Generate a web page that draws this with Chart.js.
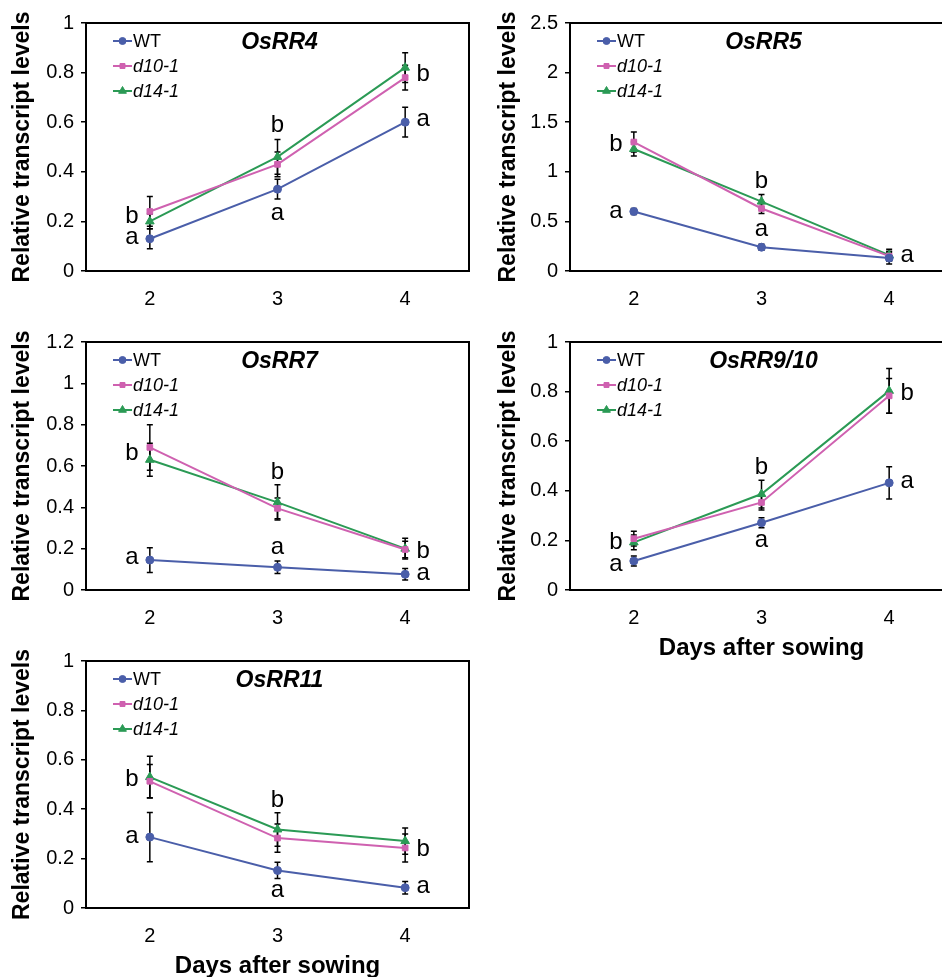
<!DOCTYPE html>
<html>
<head>
<meta charset="utf-8">
<script src="https://cdn.jsdelivr.net/npm/chart.js@4.4.1/dist/chart.umd.min.js"></script>
<style>
  html, body { margin: 0; padding: 0; background: #fff; overflow: hidden; }
  #wrap { position: relative; width: 942px; height: 977px; overflow: hidden; }
  #wrap canvas { position: absolute; }
</style>
</head>
<body>
<div id="wrap">
  <canvas id="rr4" width="480" height="320" style="left:0;top:0"></canvas>
  <canvas id="rr5" width="490" height="320" style="left:470px;top:0"></canvas>
  <canvas id="rr7" width="480" height="320" style="left:0;top:319px"></canvas>
  <canvas id="rr910" width="490" height="360" style="left:470px;top:319px"></canvas>
  <canvas id="rr11" width="480" height="345" style="left:0;top:638px"></canvas>
</div>
<script>
"use strict";

const days = ["2", "3", "4"];
const lines = ["WT", "d10-1", "d14-1"];
const lineColors = ["#4a5ea9", "#cf61b0", "#2b9a55"];
const lineMarkers = ["circle", "rect", "triangle"];

// OsRR4
const rr4WT = [0.13, 0.33, 0.6];
const rr4D10 = [0.24, 0.43, 0.78];
const rr4D14 = [0.2, 0.46, 0.82];
const rr4WTErr = [0.04, 0.04, 0.06];
const rr4D10Err = [0.06, 0.05, 0.05];
const rr4D14Err = [0.03, 0.07, 0.06];
const rr4Ticks = [0, 0.2, 0.4, 0.6, 0.8, 1];
const rr4Letters = [["b", 0, 0.23, "l"], ["a", 0, 0.133, "l"], ["b", 1, 0.597, "c"], ["a", 1, 0.23, "c"], ["b", 2, 0.8, "r"], ["a", 2, 0.61, "r"]];

// OsRR5
const rr5WT = [0.6, 0.24, 0.13];
const rr5D10 = [1.3, 0.63, 0.15];
const rr5D14 = [1.23, 0.7, 0.16];
const rr5WTErr = [0.03, 0.03, 0.06];
const rr5D10Err = [0.1, 0.05, 0.05];
const rr5D14Err = [0.07, 0.07, 0.06];
const rr5Ticks = [0, 0.5, 1, 1.5, 2, 2.5];
const rr5Letters = [["b", 0, 1.3, "l"], ["a", 0, 0.6, "l"], ["b", 1, 0.92, "c"], ["a", 1, 0.42, "c"], ["a", 2, 0.15, "r"]];

// OsRR7
const rr7WT = [0.145, 0.11, 0.076];
const rr7D10 = [0.69, 0.395, 0.196];
const rr7D14 = [0.63, 0.424, 0.2];
const rr7WTErr = [0.06, 0.03, 0.028];
const rr7D10Err = [0.11, 0.05, 0.04];
const rr7D14Err = [0.08, 0.085, 0.05];
const rr7Ticks = [0, 0.2, 0.4, 0.6, 0.8, 1, 1.2];
const rr7Letters = [["b", 0, 0.67, "l"], ["a", 0, 0.155, "l"], ["b", 1, 0.58, "c"], ["a", 1, 0.205, "c"], ["b", 2, 0.196, "r"], ["a", 2, 0.077, "r"]];

// OsRR9/10
const rr910WT = [0.117, 0.271, 0.432];
const rr910D10 = [0.207, 0.353, 0.783];
const rr910D14 = [0.192, 0.387, 0.803];
const rr910WTErr = [0.02, 0.02, 0.065];
const rr910D10Err = [0.03, 0.03, 0.07];
const rr910D14Err = [0.03, 0.056, 0.09];
const rr910Ticks = [0, 0.2, 0.4, 0.6, 0.8, 1];
const rr910Letters = [["b", 0, 0.2, "l"], ["a", 0, 0.1, "l"], ["b", 1, 0.503, "c"], ["a", 1, 0.2, "c"], ["b", 2, 0.8, "r"], ["a", 2, 0.436, "r"]];

// OsRR11
const rr11WT = [0.287, 0.152, 0.082];
const rr11D10 = [0.513, 0.283, 0.243];
const rr11D14 = [0.53, 0.318, 0.271];
const rr11WTErr = [0.1, 0.033, 0.025];
const rr11D10Err = [0.068, 0.057, 0.057];
const rr11D14Err = [0.084, 0.068, 0.053];
const rr11Ticks = [0, 0.2, 0.4, 0.6, 0.8, 1];
const rr11Letters = [["b", 0, 0.528, "l"], ["a", 0, 0.29, "l"], ["b", 1, 0.443, "c"], ["a", 1, 0.069, "c"], ["b", 2, 0.247, "r"], ["a", 2, 0.085, "r"]];

const FONT = "Arial, 'Liberation Sans', Helvetica, sans-serif";
Chart.defaults.font.family = FONT;
Chart.defaults.color = "#000";

// title, legend, box, error bars and letters drawn inside the plot
const panelPlugin = function (title, errors, letters) {
  return {
    id: "panel",
    beforeDatasetsDraw(chart) {
      const ctx = chart.ctx;
      const y = chart.scales.y;
      ctx.save();
      ctx.strokeStyle = "#000";
      ctx.lineWidth = 1.5;
      chart.data.datasets.forEach((ds, i) => {
        chart.getDatasetMeta(i).data.forEach((pt, j) => {
          const v = ds.data[j];
          const top = y.getPixelForValue(v + errors[i][j]);
          const bot = y.getPixelForValue(v - errors[i][j]);
          ctx.beginPath();
          ctx.moveTo(pt.x, top);
          ctx.lineTo(pt.x, bot);
          ctx.moveTo(pt.x - 3, top);
          ctx.lineTo(pt.x + 3, top);
          ctx.moveTo(pt.x - 3, bot);
          ctx.lineTo(pt.x + 3, bot);
          ctx.stroke();
        });
      });
      ctx.restore();
    },
    afterDraw(chart) {
      const ctx = chart.ctx;
      const area = chart.chartArea;
      const x = chart.scales.x;
      const y = chart.scales.y;
      ctx.save();
      // frame
      ctx.strokeStyle = "#000";
      ctx.lineWidth = 2;
      ctx.strokeRect(area.left, area.top, area.right - area.left, area.bottom - area.top);

      // gene name
      ctx.fillStyle = "#000";
      ctx.font = "italic bold 23px " + FONT;
      ctx.textAlign = "center";
      ctx.textBaseline = "middle";
      ctx.fillText(title, (area.left + area.right) / 2 + 2, area.top + 20);

      // legend
      chart.data.datasets.forEach((ds, i) => {
        const ly = area.top + 18 + i * 25;
        const lx = area.left + 27;
        ctx.strokeStyle = ds.borderColor;
        ctx.fillStyle = ds.backgroundColor;
        ctx.lineWidth = 2;
        ctx.beginPath();
        ctx.moveTo(lx, ly);
        ctx.lineTo(lx + 19, ly);
        ctx.stroke();
        ctx.lineWidth = 1;
        Chart.helpers.drawPoint(ctx, { pointStyle: ds.pointStyle, radius: ds.pointRadius - 0.5, borderWidth: 1 }, lx + 9.5, ly);
        ctx.fillStyle = "#000";
        ctx.font = (i === 0 ? "" : "italic ") + "18px " + FONT;
        ctx.textAlign = "left";
        ctx.fillText(ds.label, lx + 20, ly + 1);
      });

      // significance letters
      ctx.fillStyle = "#000";
      ctx.font = "24px " + FONT;
      ctx.textAlign = "center";
      ctx.textBaseline = "alphabetic";
      letters.forEach(([t, i, v, side]) => {
        let px = x.getPixelForValue(i);
        if (side === "l") px -= 18;
        if (side === "r") px += 18;
        const py = y.getPixelForValue(v) + (t === "a" ? 0.26 : 0.36) * 24;
        ctx.fillText(t, px, py);
      });
      ctx.restore();
    },
  };
};

const makeChart = function (id, opts) {
  const datasets = opts.values.map((vals, i) => ({
    label: lines[i],
    data: vals,
    borderColor: lineColors[i],
    backgroundColor: lineColors[i],
    borderWidth: 2,
    pointStyle: lineMarkers[i],
    pointRadius: i === 2 ? 5 : 4,
    pointBorderWidth: 1,
    tension: 0,
  }));

  return new Chart(document.getElementById(id), {
    type: "line",
    data: { labels: days, datasets },
    options: {
      responsive: false,
      animation: false,
      devicePixelRatio: 1,
      layout: { padding: { top: opts.top, right: opts.right, left: 0, bottom: 0 } },
      plugins: { legend: { display: false }, tooltip: { enabled: false } },
      scales: {
        x: {
          offset: true,
          grid: { display: false },
          border: { display: true, color: "#000", width: 2 },
          ticks: { font: { size: 20 }, padding: 8, color: "#000" },
          title: {
            display: !!opts.xTitle,
            text: opts.xTitle || "",
            font: { size: 24, weight: "bold" },
            color: "#000",
            padding: { top: 0, bottom: opts.xTitlePad || 0 },
          },
          afterFit(scale) {
            scale.height = opts.xHeight;
          },
        },
        y: {
          min: 0,
          max: opts.ticks[opts.ticks.length - 1],
          afterBuildTicks(scale) {
            scale.ticks = opts.ticks.map((v) => ({ value: v }));
          },
          grid: { drawOnChartArea: false, color: "#000", tickLength: 5, lineWidth: 1.5 },
          border: { display: true, color: "#000", width: 2 },
          ticks: {
            font: { size: 20 },
            padding: 7,
            color: "#000",
            callback: (v) => String(+Number(v).toFixed(2)),
          },
          title: {
            display: true,
            text: "Relative transcript levels",
            font: { size: 23, weight: "bold" },
            color: "#000",
            padding: { top: opts.yTitlePad, bottom: 0 },
          },
          afterFit(scale) {
            scale.width = opts.yWidth;
          },
        },
      },
    },
    plugins: [panelPlugin(opts.title, opts.errors, opts.letters)],
  });
};

makeChart("rr4", {
  title: "OsRR4",
  values: [rr4WT, rr4D10, rr4D14],
  errors: [rr4WTErr, rr4D10Err, rr4D14Err],
  ticks: rr4Ticks,
  letters: rr4Letters,
  top: 23, right: 11, yWidth: 86, xHeight: 49, yTitlePad: 9,
});

makeChart("rr5", {
  title: "OsRR5",
  values: [rr5WT, rr5D10, rr5D14],
  errors: [rr5WTErr, rr5D10Err, rr5D14Err],
  ticks: rr5Ticks,
  letters: rr5Letters,
  top: 23, right: 7, yWidth: 100, xHeight: 49, yTitlePad: 25,
});

makeChart("rr7", {
  title: "OsRR7",
  values: [rr7WT, rr7D10, rr7D14],
  errors: [rr7WTErr, rr7D10Err, rr7D14Err],
  ticks: rr7Ticks,
  letters: rr7Letters,
  top: 23, right: 11, yWidth: 86, xHeight: 49, yTitlePad: 9,
});

makeChart("rr910", {
  title: "OsRR9/10",
  values: [rr910WT, rr910D10, rr910D14],
  errors: [rr910WTErr, rr910D10Err, rr910D14Err],
  ticks: rr910Ticks,
  letters: rr910Letters,
  xTitle: "Days after sowing", xTitlePad: 16,
  top: 23, right: 7, yWidth: 100, xHeight: 89, yTitlePad: 25,
});

makeChart("rr11", {
  title: "OsRR11",
  values: [rr11WT, rr11D10, rr11D14],
  errors: [rr11WTErr, rr11D10Err, rr11D14Err],
  ticks: rr11Ticks,
  letters: rr11Letters,
  xTitle: "Days after sowing", xTitlePad: 2,
  top: 23, right: 11, yWidth: 86, xHeight: 75, yTitlePad: 9,
});
</script>
</body>
</html>
